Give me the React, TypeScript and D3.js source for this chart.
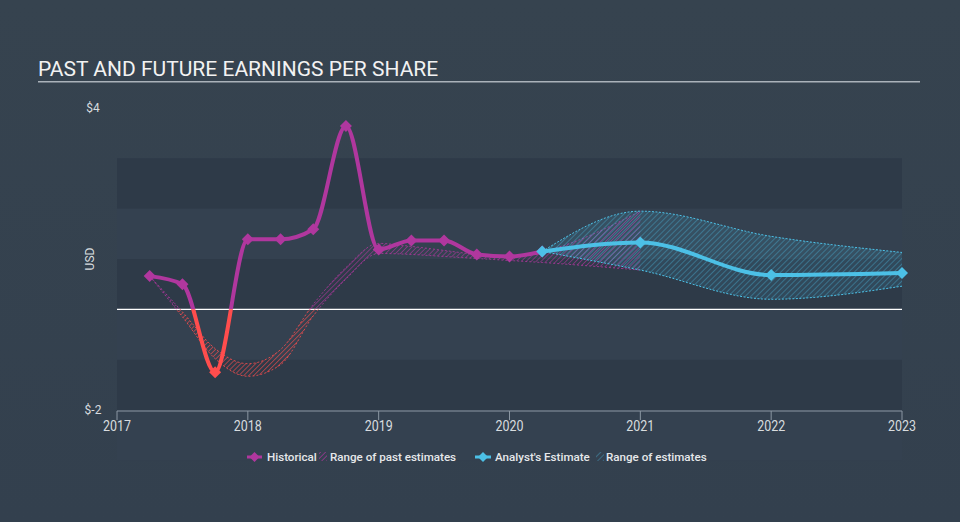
import React from "react";
import * as d3 from "d3";

const histYears = [2017.25, 2017.5, 2017.75, 2018.0, 2018.25, 2018.5, 2018.75, 2019.0, 2019.25, 2019.5, 2019.75, 2020.0, 2020.25];
const histEPS = [0.66, 0.5, -1.25, 1.39, 1.39, 1.59, 3.64, 1.19, 1.37, 1.37, 1.09, 1.05, 1.15];

const pastRangeYears = [2017.25, 2017.5, 2017.75, 2018.0, 2018.25, 2018.5, 2018.75, 2019.0, 2019.25, 2019.5, 2019.75, 2020.0, 2020.25, 2021.0];
const pastRangeHigh = [0.66, -0.05, -0.78, -1.08, -0.8, 0.1, 0.83, 1.31, 1.25, 1.17, 1.09, 1.05, 1.15, 1.95];
const pastRangeLow = [0.66, -0.15, -0.98, -1.33, -1.1, -0.13, 0.6, 1.11, 1.09, 1.05, 1.01, 0.97, 0.93, 0.78];

const estYears = [2020.25, 2021.0, 2022.0, 2023.0];
const estEPS = [1.15, 1.33, 0.68, 0.72];
const estHigh = [1.15, 1.95, 1.45, 1.13];
const estLow = [1.15, 0.78, 0.2, 0.46];

const xTicks = [2017, 2018, 2019, 2020, 2021, 2022, 2023];
const yLabels = [
  { v: 4, t: "$4" },
  { v: -2, t: "$-2" },
];
const bandValues = [3, 1, -1];

const W = 960;
const H = 522;
const MAG = "#b0379e";
const RED = "#ff4d4d";
const BLUE = "#4cc0e6";
const FONT = "Roboto, 'Noto Sans', sans-serif";

export default function App() {
  const x = d3.scaleLinear().domain([2017, 2023]).range([117, 902]);
  const y = d3.scaleLinear().domain([-2, 4]).range([410, 108]);
  const y0 = y(0);

  const hist = histYears.map((t, i) => ({ t, v: histEPS[i] }));
  const est = estYears.map((t, i) => ({ t, v: estEPS[i] }));
  const past = pastRangeYears.map((t, i) => ({ t, hi: pastRangeHigh[i], lo: pastRangeLow[i] }));
  const estR = estYears.map((t, i) => ({ t, hi: estHigh[i], lo: estLow[i] }));

  const line = d3
    .line<{ t: number; v: number }>()
    .x((d) => x(d.t))
    .y((d) => y(d.v))
    .curve(d3.curveMonotoneX);
  const area = d3
    .area<{ t: number; hi: number; lo: number }>()
    .x((d) => x(d.t))
    .y0((d) => y(d.lo))
    .y1((d) => y(d.hi))
    .curve(d3.curveMonotoneX);
  const edgeHi = d3
    .line<{ t: number; hi: number; lo: number }>()
    .x((d) => x(d.t))
    .y((d) => y(d.hi))
    .curve(d3.curveMonotoneX);
  const edgeLo = d3
    .line<{ t: number; hi: number; lo: number }>()
    .x((d) => x(d.t))
    .y((d) => y(d.lo))
    .curve(d3.curveMonotoneX);

  const diamond = (cx: number, cy: number, r: number) =>
    `M${cx},${cy - r}L${cx + r},${cy}L${cx},${cy + r}L${cx - r},${cy}Z`;

  const x0 = x(2017);
  const x1 = x(2023);

  return (
    <svg width={W} height={H} style={{ position: "absolute", left: 0, top: 0, display: "block" }}>
      <defs>
        <linearGradient id="bg" x1="0" y1="0" x2="0" y2="1">
          <stop offset="0" stopColor="#36434f" />
          <stop offset="1" stopColor="#33404e" />
        </linearGradient>
        <pattern id="hMag" patternUnits="userSpaceOnUse" width="3.5" height="3.5" patternTransform="rotate(45)">
          <line x1="0" y1="0" x2="0" y2="3.5" stroke={MAG} strokeWidth="1.3" />
        </pattern>
        <pattern id="hRed" patternUnits="userSpaceOnUse" width="3.5" height="3.5" patternTransform="rotate(45)">
          <line x1="0" y1="0" x2="0" y2="3.5" stroke={RED} strokeWidth="1.3" />
        </pattern>
        <pattern id="hBlue" patternUnits="userSpaceOnUse" width="4" height="4" patternTransform="rotate(45)">
          <line x1="0" y1="0" x2="0" y2="4" stroke={BLUE} strokeWidth="1" strokeOpacity="0.7" />
        </pattern>
        <clipPath id="above">
          <rect x={0} y={0} width={W} height={y0} />
        </clipPath>
        <clipPath id="below">
          <rect x={0} y={y0} width={W} height={H - y0} />
        </clipPath>
      </defs>
      <rect x={0} y={0} width={W} height={H} fill="url(#bg)" />

      {/* title */}
      <text x={38} y={76} fill="#f2f2f2" fontFamily={FONT} fontSize={21}>
        PAST AND FUTURE EARNINGS PER SHARE
      </text>
      <rect x={38} y={81} width={882} height={1.5} fill="#aab2ba" />

      {/* bands */}
      {bandValues.map((v) => (
        <rect key={v} x={x0} y={y(v)} width={x1 - x0} height={y(v - 1) - y(v)} fill="#2e3a48" />
      ))}
      {bandValues.map((v) => (
        <rect key={"l" + v} x={x0} y={y(v - 1)} width={x1 - x0} height={y(v - 2) - y(v - 1)} fill="#344150" />
      ))}

      {/* y labels */}
      {yLabels.map((d) => (
        <text key={d.t} x={93} y={y(d.v) + 4} textAnchor="middle" fill="#d8dcdf" fontFamily={FONT} fontSize={12}>
          {d.t}
        </text>
      ))}
      <text
        transform={`translate(94,${y(1)}) rotate(-90)`}
        textAnchor="middle"
        fill="#d8dcdf"
        fontFamily={FONT}
        fontSize={12}
      >
        USD
      </text>

      {/* x axis */}
      <line x1={x0} x2={x1} y1={411} y2={411} stroke="#8b97a3" strokeWidth={1} />
      {xTicks.map((t) => (
        <g key={t}>
          <line x1={x(t)} x2={x(t)} y1={411} y2={420} stroke="#8b97a3" strokeWidth={1} />
          <text
            x={x(t)}
            y={431}
            textAnchor="middle"
            fill="#d8dcdf"
            fontFamily={FONT}
            fontSize={14}
            textLength={28}
            lengthAdjust="spacingAndGlyphs"
          >
            {t}
          </text>
        </g>
      ))}

      {/* zero line */}
      <line x1={x0} x2={x1} y1={y0} y2={y0} stroke="#ffffff" strokeWidth={1.2} />

      {/* past estimates range */}
      <g clipPath="url(#above)">
        <path d={area(past) || ""} fill="url(#hMag)" opacity={0.85} />
        <path d={edgeHi(past) || ""} fill="none" stroke={MAG} strokeWidth={1} strokeDasharray="2,2" opacity={0.8} />
        <path d={edgeLo(past) || ""} fill="none" stroke={MAG} strokeWidth={1} strokeDasharray="2,2" opacity={0.8} />
      </g>
      <g clipPath="url(#below)">
        <path d={area(past) || ""} fill="url(#hRed)" opacity={0.85} />
        <path d={edgeHi(past) || ""} fill="none" stroke={RED} strokeWidth={1} strokeDasharray="2,2" opacity={0.8} />
        <path d={edgeLo(past) || ""} fill="none" stroke={RED} strokeWidth={1} strokeDasharray="2,2" opacity={0.8} />
      </g>

      {/* estimate range */}
      <path d={area(estR) || ""} fill={BLUE} fillOpacity={0.12} />
      <path d={area(estR) || ""} fill="url(#hBlue)" />
      <path d={edgeHi(estR) || ""} fill="none" stroke={BLUE} strokeWidth={1} strokeDasharray="2,1.5" />
      <path d={edgeLo(estR) || ""} fill="none" stroke={BLUE} strokeWidth={1} strokeDasharray="2,1.5" />

      {/* historical line */}
      <g clipPath="url(#above)">
        <path d={line(hist) || ""} fill="none" stroke={MAG} strokeWidth={4} strokeLinejoin="round" />
      </g>
      <g clipPath="url(#below)">
        <path d={line(hist) || ""} fill="none" stroke={RED} strokeWidth={4} strokeLinejoin="round" />
      </g>
      {hist.map((d) => (
        <path key={d.t} d={diamond(x(d.t), y(d.v), 6)} fill={d.v < 0 ? RED : MAG} />
      ))}

      {/* estimate line */}
      <path d={line(est) || ""} fill="none" stroke={BLUE} strokeWidth={4} strokeLinejoin="round" />
      {est.map((d) => (
        <path key={d.t} d={diamond(x(d.t), y(d.v), 6)} fill={BLUE} />
      ))}

      {/* legend */}
      <g fontFamily={FONT} fontSize={11.6} fontWeight={500} fill="#e6e8ea">
        <line x1={247} x2={262} y1={457} y2={457} stroke={MAG} strokeWidth={3} />
        <path d={diamond(254.5, 457, 5)} fill={MAG} />
        <text x={267} y={461}>Historical</text>
        <rect x={319} y={452} width={8} height={9} fill="url(#hMag)" />
        <text x={330} y={461}>Range of past estimates</text>

        <line x1={475} x2={491} y1={457} y2={457} stroke={BLUE} strokeWidth={3} />
        <path d={diamond(483, 457, 5)} fill={BLUE} />
        <text x={495} y={461}>Analyst's Estimate</text>
        <rect x={596} y={452} width={8} height={9} fill="url(#hBlue)" />
        <text x={606} y={461}>Range of estimates</text>
      </g>
    </svg>
  );
}
